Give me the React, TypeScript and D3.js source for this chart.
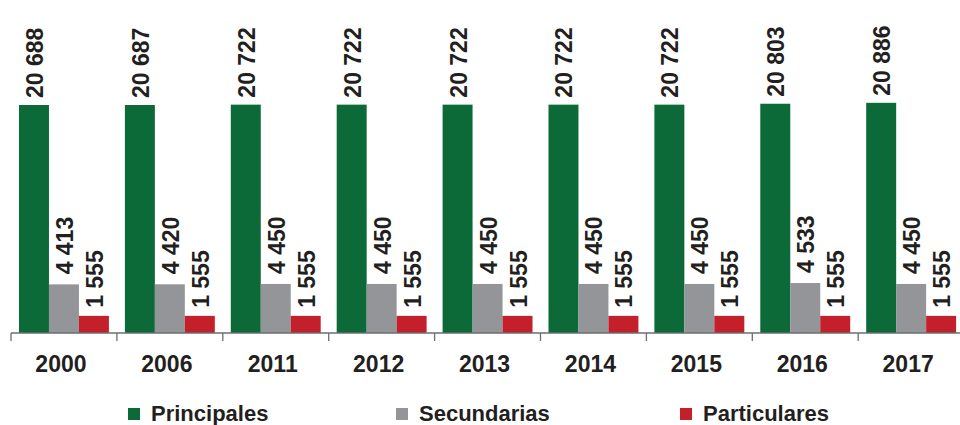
import React from 'react';
import * as d3 from 'd3';

const width = 960;
const height = 425;

const years = ['2000', '2006', '2011', '2012', '2013', '2014', '2015', '2016', '2017'];
const principales = [20688, 20687, 20722, 20722, 20722, 20722, 20722, 20803, 20886];
const secundarias = [4413, 4420, 4450, 4450, 4450, 4450, 4450, 4533, 4450];
const particulares = [1555, 1555, 1555, 1555, 1555, 1555, 1555, 1555, 1555];

const seriesNames = ['Principales', 'Secundarias', 'Particulares'];
const colors = ['#0b6a37', '#939598', '#c3202b'];

const baseY = 333;
const font = '"Liberation Sans", Arial, sans-serif';
const ink = '#231f20';

const fmt = (v: number) => {
  const s = String(v);
  return s.length > 3 ? s.slice(0, s.length - 3) + ' ' + s.slice(-3) : s;
};

export default function App() {
  const x = d3.scaleBand<string>().domain(years).range([11, 11 + 9 * 105.9]);
  const inner = d3
    .scaleBand<string>()
    .domain(seriesNames)
    .range([0, x.bandwidth()])
    .paddingOuter(8 / 30);
  const y = d3.scaleLinear().domain([0, 30000]).range([baseY, 2.4]);

  const series = [principales, secundarias, particulares];
  const legendX = [128, 396, 680];
  // gap between bar top and its label, per series
  const gaps = [7, 10, 8];

  return (
    <svg
      width={width}
      height={height}
      style={{ position: 'absolute', left: 0, top: 0, background: '#fff' }}
    >
      {years.map((yr, i) => (
        <g key={yr} transform={`translate(${x(yr)},0)`}>
          {series.map((vals, s) => {
            const bx = inner(seriesNames[s])!;
            const bw = inner.bandwidth();
            const top = y(vals[i]);
            const cx = bx + bw / 2 + 1;
            const ty = top - gaps[s];
            return (
              <g key={s}>
                <rect x={bx} y={top} width={bw} height={baseY - top} fill={colors[s]} />
                <text
                  transform={`translate(${cx},${ty}) rotate(-90)`}
                  dominantBaseline="central"
                  fontFamily={font}
                  fontWeight="bold"
                  fontSize={23}
                  fill={ink}
                >
                  {fmt(vals[i])}
                </text>
              </g>
            );
          })}
          <line x1={0} x2={0} y1={baseY} y2={baseY + 8} stroke="#6d6e71" strokeWidth={1.3} />
          <text
            x={x.bandwidth() / 2 - 3}
            y={372}
            textAnchor="middle"
            fontFamily={font}
            fontWeight="bold"
            fontSize={23}
            fill={ink}
          >
            {yr}
          </text>
        </g>
      ))}
      <line x1={11} x2={width} y1={baseY} y2={baseY} stroke="#6d6e71" strokeWidth={1.3} />
      {seriesNames.map((name, s) => (
        <g key={name} transform={`translate(${legendX[s]},0)`}>
          <rect x={0} y={408} width={12} height={12} fill={colors[s]} />
          <text
            x={23}
            y={421}
            fontFamily={font}
            fontWeight="bold"
            fontSize={22}
            fill={ink}
          >
            {name}
          </text>
        </g>
      ))}
    </svg>
  );
}
